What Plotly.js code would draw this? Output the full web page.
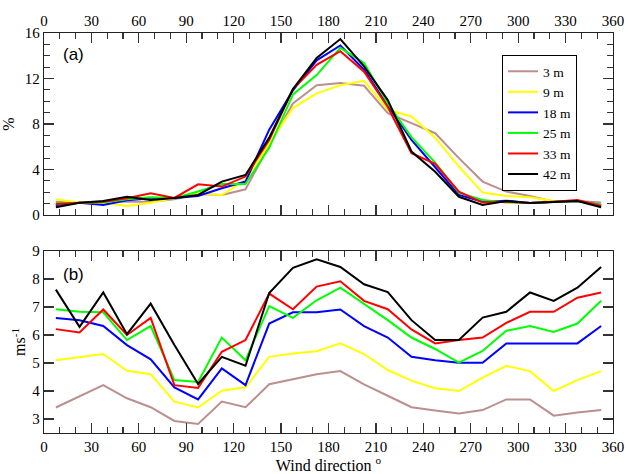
<!DOCTYPE html>
<html>
<head>
<meta charset="utf-8">
<script src="https://cdn.plot.ly/plotly-3.0.1.min.js"></script>
<style>html,body{margin:0;padding:0;background:#fff;}#chart{width:628px;height:474px;}</style>
</head>
<body>
<div id="chart"></div>
<script>
const directions = [7.5, 22.5, 37.5, 52.5, 67.5, 82.5, 97.5, 112.5, 127.5, 142.5, 157.5, 172.5,
                    187.5, 202.5, 217.5, 232.5, 247.5, 262.5, 277.5, 292.5, 307.5, 322.5, 337.5, 352.5];
const heights = ['3 m', '9 m', '18 m', '25 m', '33 m', '42 m'];
const colors = ['#bc8f8f', '#ffff00', '#0000ff', '#00ff00', '#ff0000', '#000000'];

// (a) frequency, %
const freq3  = [1.17, 1.08, 1.17, 1.17, 1.17, 1.38, 1.85, 1.76, 2.26, 6.1, 9.8, 11.4, 11.6, 11.36, 8.95, 8.07, 7.19, 5.0, 2.94, 2.06, 1.67, 1.17, 1.23, 1.1];
const freq9  = [1.38, 1.08, 1.1, 0.8, 1.08, 1.5, 1.9, 1.76, 3.08, 6.3, 9.4, 10.7, 11.4, 11.8, 9.25, 8.66, 6.8, 4.26, 1.97, 1.67, 1.56, 1.23, 1.23, 0.88];
const freq18 = [0.88, 1.08, 0.88, 1.3, 1.47, 1.5, 1.67, 2.35, 2.94, 7.5, 10.95, 13.6, 14.9, 12.77, 9.6, 6.6, 4.2, 1.76, 1.17, 1.26, 1.05, 1.17, 1.23, 0.88];
const freq25 = [1.03, 1.08, 1.1, 1.38, 1.56, 1.5, 2.06, 2.73, 2.73, 5.9, 10.6, 12.3, 14.7, 13.36, 9.8, 6.84, 4.6, 1.97, 1.32, 1.1, 1.05, 1.17, 1.23, 0.88];
const freq33 = [0.97, 1.08, 1.17, 1.47, 1.9, 1.5, 2.7, 2.5, 3.38, 6.6, 11.07, 13.2, 14.4, 12.6, 9.5, 5.43, 4.5, 2.06, 1.09, 1.17, 1.05, 1.17, 1.32, 0.79];
const freq42 = [0.68, 1.08, 1.23, 1.6, 1.32, 1.5, 1.76, 2.94, 3.52, 6.8, 11.07, 13.8, 15.47, 13.07, 10.1, 5.58, 3.8, 1.6, 0.88, 1.23, 1.05, 1.17, 1.23, 0.68];

// (b) mean wind speed, m/s
const speed3  = [3.41, 3.82, 4.21, 3.74, 3.42, 2.93, 2.82, 3.62, 3.42, 4.24, 4.42, 4.6, 4.71, 4.24, 3.83, 3.42, 3.3, 3.2, 3.32, 3.7, 3.7, 3.12, 3.23, 3.32];
const speed9  = [5.1, 5.22, 5.32, 4.72, 4.6, 3.62, 3.41, 4.01, 4.13, 5.22, 5.34, 5.42, 5.7, 5.32, 4.75, 4.37, 4.1, 4.0, 4.48, 4.9, 4.71, 4.0, 4.39, 4.71];
const speed18 = [6.61, 6.53, 6.32, 5.64, 5.13, 4.13, 3.7, 4.81, 4.21, 6.41, 6.81, 6.81, 6.91, 6.32, 5.91, 5.22, 5.1, 5.01, 5.01, 5.7, 5.7, 5.7, 5.7, 6.32];
const speed25 = [6.92, 6.83, 6.81, 5.82, 6.32, 4.39, 4.32, 5.91, 5.1, 7.03, 6.61, 7.24, 7.69, 7.12, 6.53, 5.91, 5.5, 5.01, 5.43, 6.15, 6.32, 6.11, 6.41, 7.22];
const speed33 = [6.21, 6.09, 6.91, 6.0, 6.61, 4.21, 4.11, 5.4, 5.82, 7.48, 6.92, 7.73, 7.92, 7.22, 6.92, 6.2, 5.7, 5.82, 5.91, 6.43, 6.83, 6.83, 7.33, 7.52];
const speed42 = [7.62, 6.29, 7.52, 6.03, 7.12, 5.64, 4.25, 5.22, 4.9, 7.5, 8.4, 8.7, 8.43, 7.81, 7.53, 6.53, 5.82, 5.82, 6.62, 6.83, 7.52, 7.22, 7.69, 8.43];

const freqs = [freq3, freq9, freq18, freq25, freq33, freq42];
const speeds = [speed3, speed9, speed18, speed25, speed33, speed42];

const traces = [];
heights.forEach((h, i) => {
  traces.push({x: directions, y: freqs[i], xaxis: 'x2', yaxis: 'y2', mode: 'lines', name: h,
    line: {color: colors[i], width: 2}, showlegend: true});
});
heights.forEach((h, i) => {
  traces.push({x: directions, y: speeds[i], xaxis: 'x', yaxis: 'y', mode: 'lines', name: h,
    line: {color: colors[i], width: 2}, showlegend: false});
});

const serif = '"Liberation Serif", "Times New Roman", Times, serif';
const sans = '"Liberation Sans", Arial, sans-serif';
const axCommon = {
  showline: true, linecolor: '#222', linewidth: 1.2, mirror: 'ticks', ticks: 'inside',
  ticklen: 10, tickwidth: 1.2, tickcolor: '#333', showgrid: false, zeroline: false,
  tickfont: {family: serif, size: 15, color: '#000'}
};

const layout = {
  width: 628, height: 474,
  margin: {l: 44, r: 15, t: 33, b: 41},
  paper_bgcolor: '#fff', plot_bgcolor: '#fff',
  font: {family: serif, size: 15, color: '#000'},
  xaxis: Object.assign({}, axCommon, {
    domain: [0, 1], anchor: 'y', range: [0, 360], dtick: 30, tick0: 0,
    minor: {dtick: 10, ticks: 'inside', ticklen: 6, tickcolor: '#333', showgrid: false},
    title: {text: 'Wind direction <sup>o</sup>', font: {family: serif, size: 16}, standoff: 3}
  }),
  yaxis: Object.assign({}, axCommon, {
    domain: [0, 0.455], anchor: 'x', range: [2.5, 9], dtick: 1, tick0: 0,
    title: {text: 'ms<sup>-1</sup>', font: {family: serif, size: 16}, standoff: 2}
  }),
  xaxis2: Object.assign({}, axCommon, {
    domain: [0, 1], anchor: 'y2', side: 'top', range: [0, 360], dtick: 30, tick0: 0,
    minor: {dtick: 10, ticks: 'inside', ticklen: 6, tickcolor: '#333', showgrid: false}
  }),
  yaxis2: Object.assign({}, axCommon, {
    domain: [0.545, 1], anchor: 'x2', range: [0, 16], dtick: 4, tick0: 0,
    minor: {dtick: 1, ticks: 'inside', ticklen: 6, tickcolor: '#333', showgrid: false},
    title: {text: '%', font: {family: serif, size: 16}, standoff: 6}
  }),
  legend: {
    x: 0.805, y: 0.945, xanchor: 'left', yanchor: 'top',
    bgcolor: '#fff', bordercolor: '#000', borderwidth: 1,
    font: {family: serif, size: 13.5, color: '#000'},
    tracegroupgap: 0, itemwidth: 30
  },
  annotations: [
    {text: '(a)', xref: 'paper', yref: 'paper', x: 0.03, y: 0.975, xanchor: 'left', yanchor: 'top',
     showarrow: false, font: {family: sans, size: 17, color: '#000'}},
    {text: '(b)', xref: 'paper', yref: 'paper', x: 0.03, y: 0.425, xanchor: 'left', yanchor: 'top',
     showarrow: false, font: {family: sans, size: 17, color: '#000'}}
  ]
};

Plotly.newPlot('chart', traces, layout, {staticPlot: true, displayModeBar: false});
</script>
</body>
</html>
